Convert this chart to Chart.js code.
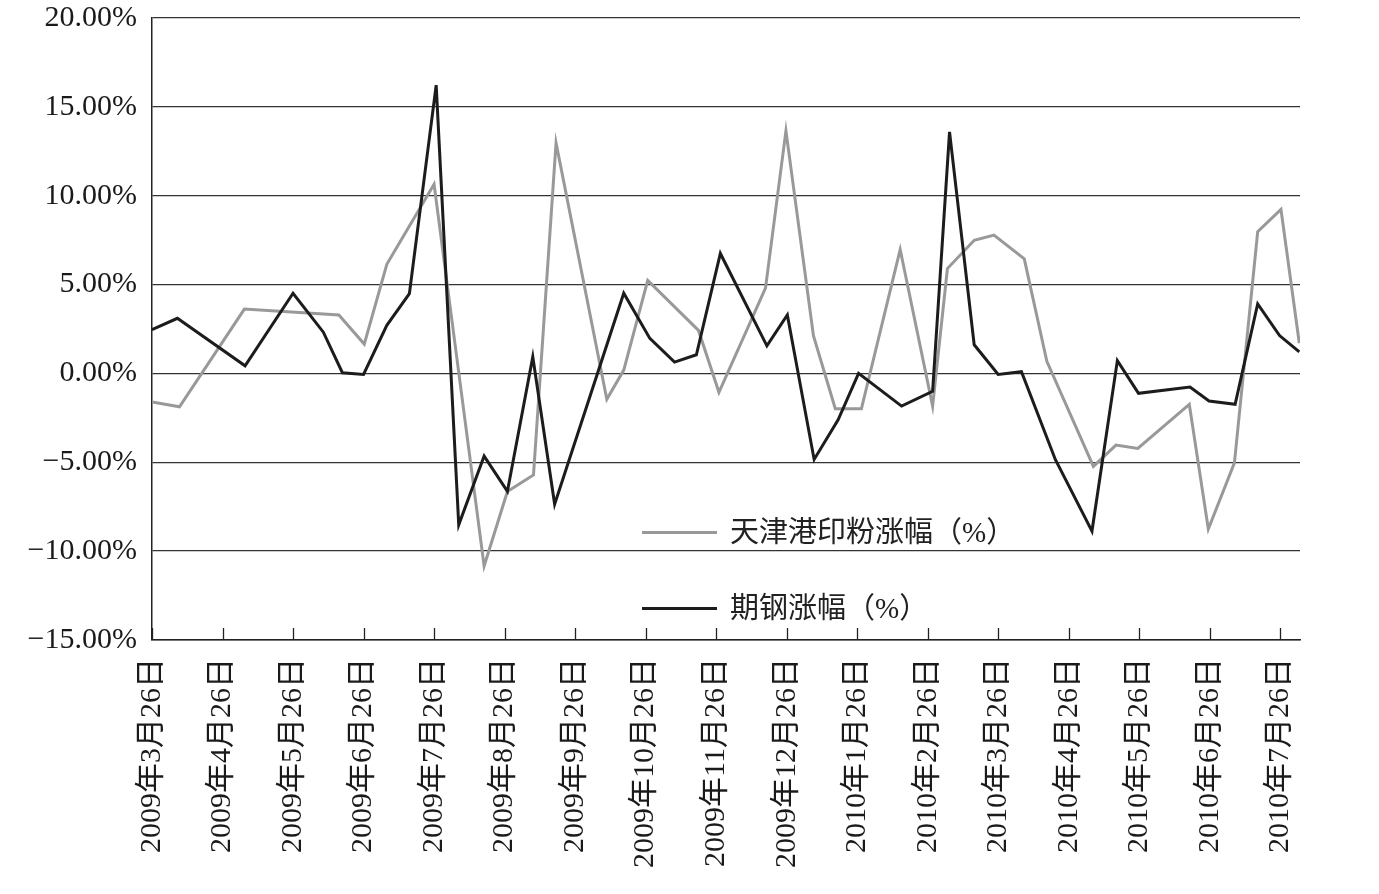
<!DOCTYPE html>
<html>
<head>
<meta charset="utf-8">
<script src="https://cdn.jsdelivr.net/npm/chart.js@4.4.1/dist/chart.umd.min.js"></script>
<style>
  html, body { margin: 0; padding: 0; background: #fff; }
  #wrap { position: relative; width: 1379px; height: 894px; }
  #legend { position: absolute; left: 642px; top: 0; font-family: 'Liberation Serif', 'Noto Sans CJK SC', serif; font-size: 29px; color: #222; }
  .item { position: absolute; left: 0; display: flex; align-items: center; white-space: nowrap; height: 36px; line-height: 36px; }
  .swatch { width: 75px; height: 3px; margin-right: 13px; }
</style>
</head>
<body>
<div id="wrap">
  <canvas id="chart"></canvas>
  <div id="legend"></div>
</div>
<script>
// x positions are in months after 2009-03-26 (one tick per month)
const monthLabels = [
  '2009年3月26日', '2009年4月26日', '2009年5月26日', '2009年6月26日', '2009年7月26日',
  '2009年8月26日', '2009年9月26日', '2009年10月26日', '2009年11月26日', '2009年12月26日',
  '2010年1月26日', '2010年2月26日', '2010年3月26日', '2010年4月26日', '2010年5月26日',
  '2010年6月26日', '2010年7月26日'
];
const yTicks = [-15, -10, -5, 0, 5, 10, 15, 20];

const ironLabel = '天津港印粉涨幅（%）';
const ironX = [0, 0.39, 1.31, 2.65, 3.01, 3.33, 4.0, 4.71, 5.04, 5.41,
  5.73, 6.45, 6.69, 7.03, 7.75, 8.04, 8.7, 8.99, 9.38, 9.69,
  10.06, 10.61, 11.07, 11.28, 11.66, 11.94, 12.37, 12.69, 13.35, 13.67,
  13.98, 14.71, 14.98, 15.35, 15.68, 16.01, 16.27];
const ironY = [-1.61, -1.88, 3.62, 3.29, 1.65, 6.14, 10.65, -10.84, -6.64, -5.71,
  12.97, -1.45, 0.19, 5.23, 2.42, -1.06, 4.80, 13.65, 2.13, -1.99,
  -1.99, 6.97, -1.84, 5.90, 7.49, 7.78, 6.45, 0.68, -5.23, -4.03,
  -4.22, -1.74, -8.75, -5.03, 7.98, 9.23, 1.70];

const steelLabel = '期钢涨幅（%）';
const steelX = [0, 0.36, 1.32, 2.0, 2.43, 2.7, 3.0, 3.33, 3.65, 4.03,
  4.35, 4.71, 5.04, 5.4, 5.71, 6.69, 7.06, 7.41, 7.72, 8.06,
  8.72, 9.01, 9.39, 9.73, 10.02, 10.63, 11.07, 11.31, 11.66, 12.0,
  12.33, 12.81, 13.33, 13.69, 13.99, 14.72, 14.99, 15.36, 15.68, 15.99,
  16.27];
const steelY = [2.46, 3.10, 0.43, 4.51, 2.32, 0.04, -0.06, 2.71, 4.49, 16.22,
  -8.52, -4.65, -6.64, 0.93, -7.36, 4.51, 1.97, 0.64, 1.05, 6.75,
  1.55, 3.29, -4.84, -2.61, 0.0, -1.84, -1.01, 13.59, 1.61, -0.06,
  0.10, -4.84, -8.87, 0.72, -1.12, -0.77, -1.55, -1.74, 3.91, 2.13,
  1.22];

const ironColor = '#999999';
const steelColor = '#1c1c1c';
const tickFont = { family: "'Liberation Serif', 'Noto Sans CJK SC', serif", size: 30 };

// small tick marks pointing up from the x axis
const innerTicks = {
  id: 'innerTicks',
  afterDraw(chart) {
    const xs = chart.scales.x, ctx = chart.ctx, bottom = chart.chartArea.bottom;
    ctx.save();
    ctx.strokeStyle = '#222';
    ctx.lineWidth = 1.3;
    xs.ticks.forEach((t, i) => {
      const px = Math.round(xs.getPixelForTick(i)) + 0.5;
      ctx.beginPath();
      ctx.moveTo(px, bottom);
      ctx.lineTo(px, bottom - 12);
      ctx.stroke();
    });
    ctx.restore();
  }
};

const noPad = s => { s.paddingTop = 0; s.paddingBottom = 0; s.paddingLeft = 0; s.paddingRight = 0; };

const chart = new Chart(document.getElementById('chart'), {
  type: 'line',
  data: {
    datasets: [
      {
        label: ironLabel,
        data: ironX.map((x, i) => ({ x, y: ironY[i] })),
        borderColor: ironColor,
        borderWidth: 3,
        pointRadius: 0,
        tension: 0,
        order: 1
      },
      {
        label: steelLabel,
        data: steelX.map((x, i) => ({ x, y: steelY[i] })),
        borderColor: steelColor,
        borderWidth: 3,
        pointRadius: 0,
        tension: 0,
        order: 0
      }
    ]
  },
  options: {
    responsive: true,
    maintainAspectRatio: false,
    animation: false,
    layout: { padding: { top: 18, right: 79, left: 0, bottom: 0 } },
    plugins: { legend: { display: false }, tooltip: { enabled: false } },
    scales: {
      x: {
        type: 'linear',
        min: 0,
        max: 16.28,
        afterBuildTicks: s => { s.ticks = monthLabels.map((_, i) => ({ value: i })); },
        afterFit: s => { s.height = 254; noPad(s); },
        grid: { drawOnChartArea: false, drawTicks: false },
        border: { color: '#222', width: 1.5 },
        ticks: {
          autoSkip: false,
          minRotation: 90,
          maxRotation: 90,
          padding: 18,
          color: '#1a1a1a',
          font: tickFont,
          callback: v => monthLabels[v]
        }
      },
      y: {
        min: -15,
        max: 20,
        afterBuildTicks: s => { s.ticks = yTicks.map(v => ({ value: v })); },
        afterFit: s => { s.width = 152; noPad(s); },
        grid: { color: '#333', lineWidth: 1.3, drawTicks: false },
        border: { color: '#222', width: 1.5 },
        ticks: {
          padding: 15,
          color: '#1a1a1a',
          font: tickFont,
          callback: v => (v < 0 ? '−' : '') + Math.abs(v).toFixed(2) + '%'
        }
      }
    }
  },
  plugins: [innerTicks]
});

// legend drawn inside the plot, below the middle
const legendTops = [514, 590];
const legend = document.getElementById('legend');
chart.data.datasets.forEach((ds, i) => {
  const item = document.createElement('div');
  item.className = 'item';
  item.style.top = legendTops[i] + 'px';
  const sw = document.createElement('span');
  sw.className = 'swatch';
  sw.style.background = ds.borderColor;
  const txt = document.createElement('span');
  txt.textContent = ds.label;
  item.appendChild(sw);
  item.appendChild(txt);
  legend.appendChild(item);
});
</script>
</body>
</html>
